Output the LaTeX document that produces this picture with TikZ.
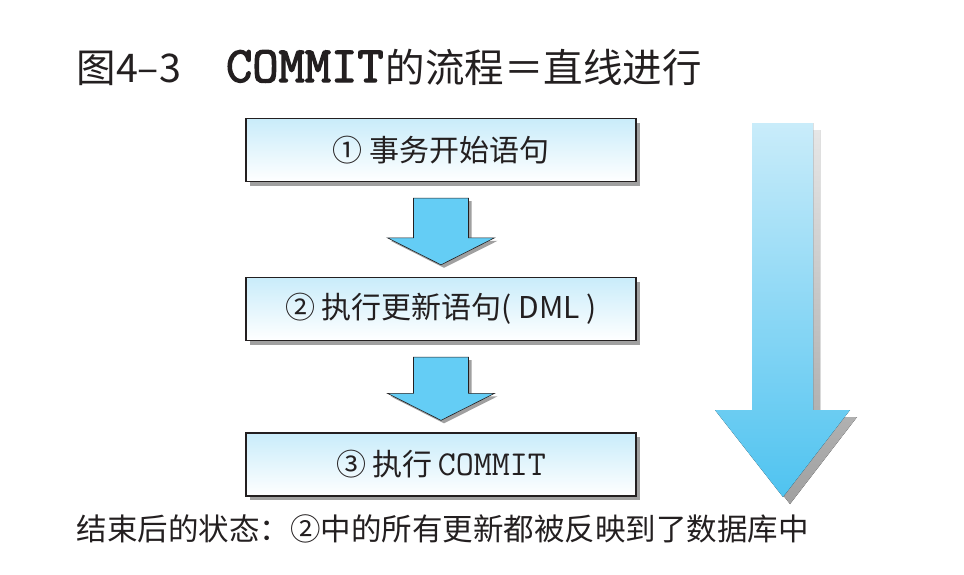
\documentclass[tikz,border=0pt]{standalone}
\usepackage{fontspec}
\setmainfont{Noto Sans CJK SC}
\newfontfamily\codefont{Latin Modern Mono}
\newfontfamily\codebold[FakeBold=2.5]{Latin Modern Mono}
\usetikzlibrary{calc,positioning,shadows}
\definecolor{cmink}{HTML}{231F20}
\definecolor{cmsky}{HTML}{C9ECFA}
\definecolor{cmflow}{HTML}{64CDF5}
\definecolor{cmdeep}{HTML}{4FC3F0}
\definecolor{cmshade}{HTML}{A0A0A0}
\definecolor{cmshadelight}{HTML}{E6E6E6}

\begin{document}
\begin{tikzpicture}[x=1pt, y=-1pt, text=cmink,
    stepbox/.style={draw=cmink, line width=1.3pt, top color=cmsky, bottom color=white,
      minimum width=390pt, minimum height=63pt, inner sep=0pt,
      font=\fontsize{30}{34}\selectfont,
      drop shadow={shadow xshift=4pt, shadow yshift=-4pt, fill=cmshade, opacity=1}},
    flowarrow/.style={fill=cmflow, draw=cmink, line width=0.6pt, line join=miter,
      drop shadow={shadow xshift=3pt, shadow yshift=-3pt, fill=cmshade, opacity=1}},
  ]
  \useasboundingbox (0,0) rectangle (964,574);

  % title
  \node[anchor=base west] (title) at (73,82)
    {\fontsize{39.5}{42}\selectfont 图4–3\hspace{45pt}{\codebold\fontsize{51}{42}\selectfont COMMIT}\hspace{2pt}的流程＝直线进行};

  % the three steps
  \node[stepbox] (begin) at (441,150) {① 事务开始语句};
  \node[stepbox] (update) at (441,309) {② 执行更新语句( DML )};
  \node[stepbox] (commit) at (441,464.5) {③ 执行\,{\codefont\fontsize{35}{34}\selectfont COMMIT}};

  % block arrows between the steps
  \foreach \from/\to in {begin/update, update/commit} {
    \path ($(\from.south)+(0,16)$) coordinate (top) ($(\to.north)+(0,-12)$) coordinate (tip);
    \draw[flowarrow] let \p1=(top), \p2=(tip) in
      (\x1-27.5pt,\y1) -- (\x1+27.5pt,\y1) -- (\x1+27.5pt,\y2+27pt) -- (\x1+53.5pt,\y2+27pt)
      -- (\x2,\y2) -- (\x1-53.5pt,\y2+27pt) -- (\x1-27.5pt,\y2+27pt) -- cycle;
  }

  % long arrow on the right: shadow, then arrow
  \fill[top color=cmshadelight, bottom color=cmshade, shift={(7,7)}]
    (752,123) -- (813,123) -- (813,410) -- (850,410) -- (783,497) -- (715,410) -- (752,410) -- cycle;
  \fill[top color=cmsky, bottom color=cmdeep]
    (752,123) -- (813,123) -- (813,410) -- (850,410) -- (783,497) -- (715,410) -- (752,410) -- cycle;

  % caption below
  \node[anchor=base west, font=\fontsize{30.5}{34}\selectfont] (state) at (73,540)
    {结束后的状态：②中的所有更新都被反映到了数据库中};
\end{tikzpicture}
\end{document}
